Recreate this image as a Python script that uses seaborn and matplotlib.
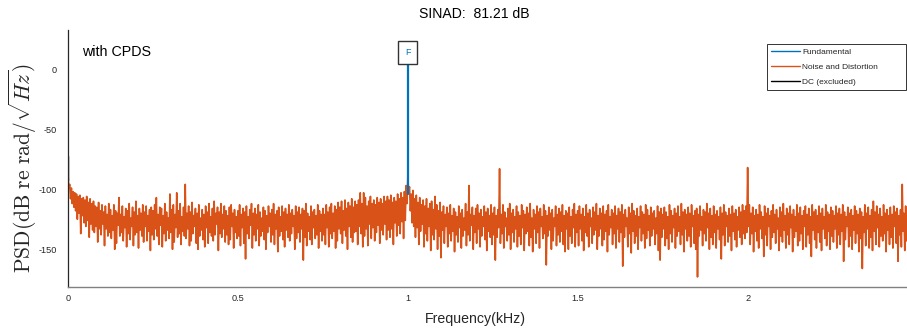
import numpy as np
import pandas as pd
import matplotlib
matplotlib.use('Agg')
import matplotlib.pyplot as plt
import seaborn as sns
from matplotlib.lines import Line2D

sns.set_style('white')
plt.rcParams['font.family'] = ['Liberation Sans', 'DejaVu Sans']
plt.rcParams['mathtext.fontset'] = 'cm'
plt.rcParams['axes.unicode_minus'] = False

# --- data (PSD in dB, frequency in kHz) ---
# noise trace, one value every 0.0025 kHz (alternating peak / trough of the band)
freq_step_khz = 0.0025

# 0.000 - 0.2475 kHz
noise_a = [-88, -99, -96, -108, -99, -112, -102, -115, -103, -118,
           -104, -125, -106, -120, -105, -137, -108, -122, -107, -128,
           -109, -131, -106, -126, -111, -140, -108, -129, -112, -134,
           -110, -136, -114, -131, -115, -144, -111, -133, -118, -138,
           -113, -129, -119, -147, -114, -133, -121, -139, -112, -136,
           -117, -141, -122, -134, -113, -150, -118, -145, -120, -130,
           -107, -139, -121, -136, -114, -143, -123, -132, -116, -148,
           -118, -137, -112, -142, -124, -131, -115, -147, -119, -138,
           -110, -136, -122, -149, -116, -134, -120, -139, -113, -144,
           -119, -131, -114, -143, -122, -135, -117, -151, -115, -138]
# 0.250 - 0.4975 kHz
noise_b = [-118, -142, -113, -133, -107, -139, -121, -146, -115, -130,
           -116, -148, -122, -137, -112, -143, -119, -134, -124, -141,
           -104, -136, -117, -150, -113, -144, -121, -132, -103, -140,
           -118, -137, -112, -146, -123, -135, -115, -139, -96, -141,
           -120, -133, -114, -147, -119, -143, -111, -137, -122, -131,
           -116, -145, -120, -150, -113, -139, -124, -134, -117, -142,
           -121, -148, -114, -132, -119, -145, -112, -136, -123, -139,
           -116, -143, -110, -138, -120, -129, -115, -151, -119, -137,
           -112, -140, -121, -133, -114, -144, -118, -138, -122, -146,
           -115, -142, -113, -131, -120, -149, -117, -136, -123, -141]
# 0.500 - 0.7475 kHz
noise_c = [-118, -139, -113, -147, -121, -132, -116, -145, -119, -158,
           -114, -137, -123, -141, -117, -130, -112, -149, -120, -138,
           -116, -143, -121, -133, -113, -147, -119, -139, -124, -135,
           -115, -142, -118, -150, -122, -136, -114, -131, -120, -144,
           -117, -138, -112, -146, -121, -133, -118, -152, -115, -139,
           -123, -135, -114, -142, -119, -148, -116, -134, -121, -140,
           -113, -143, -120, -137, -117, -131, -122, -150, -114, -141,
           -119, -136, -115, -144, -121, -133, -116, -159, -118, -140,
           -112, -147, -120, -135, -123, -142, -114, -146, -119, -132,
           -117, -141, -122, -138, -113, -149, -118, -135, -121, -143]
# 0.750 - 0.9975 kHz
noise_d = [-116, -138, -121, -146, -113, -132, -119, -148, -115, -137,
           -112, -141, -120, -135, -114, -149, -117, -143, -111, -133,
           -115, -137, -110, -145, -118, -134, -109, -139, -116, -150,
           -111, -131, -114, -140, -108, -144, -115, -136, -110, -135,
           -113, -146, -109, -131, -103, -137, -112, -148, -103, -139,
           -107, -133, -114, -147, -110, -129, -106, -141, -112, -132,
           -109, -143, -113, -136, -107, -130, -111, -145, -108, -134,
           -112, -138, -106, -129, -110, -142, -106, -134, -109, -140,
           -105, -133, -111, -146, -107, -128, -110, -139, -104, -130,
           -108, -137, -103, -127, -107, -141, -102, -126, -97, -112]
# 1.000 - 1.2475 kHz
noise_e = [-90, -102, -98, -118, -104, -128, -101, -131, -108, -140,
           -105, -132, -111, -146, -107, -135, -113, -129, -109, -148,
           -114, -137, -108, -143, -116, -131, -112, -151, -110, -138,
           -117, -142, -106, -133, -113, -150, -118, -139, -111, -157,
           -119, -134, -114, -145, -121, -131, -115, -148, -120, -137,
           -113, -143, -122, -135, -116, -152, -119, -138, -123, -144,
           -114, -132, -120, -149, -117, -139, -124, -134, -112, -147,
           -119, -138, -97, -143, -121, -130, -115, -150, -122, -136,
           -116, -145, -113, -133, -120, -148, -117, -139, -123, -131,
           -114, -142, -119, -151, -116, -135, -122, -140, -113, -146]
# 1.250 - 1.4975 kHz
noise_f = [-120, -138, -115, -159, -122, -140, -117, -132, -83, -145,
           -121, -137, -113, -149, -119, -131, -124, -143, -116, -138,
           -112, -150, -120, -136, -117, -144, -123, -133, -114, -148,
           -119, -139, -122, -146, -113, -132, -118, -151, -121, -137,
           -115, -135, -120, -147, -112, -140, -124, -152, -117, -133,
           -121, -145, -114, -136, -119, -149, -116, -131, -123, -141,
           -113, -137, -118, -163, -122, -139, -115, -134, -120, -150,
           -117, -143, -124, -131, -114, -147, -121, -138, -116, -144,
           -119, -135, -113, -146, -122, -152, -118, -133, -120, -150,
           -115, -139, -123, -145, -117, -132, -112, -148, -121, -136]
# 1.500 - 1.7475 kHz
noise_g = [-118, -147, -114, -133, -121, -143, -116, -151, -123, -136,
           -113, -139, -120, -148, -117, -131, -124, -145, -115, -138,
           -119, -134, -112, -150, -122, -139, -116, -133, -120, -147,
           -114, -142, -121, -135, -118, -152, -113, -138, -123, -132,
           -117, -146, -120, -137, -114, -149, -122, -133, -116, -144,
           -119, -136, -113, -164, -121, -140, -117, -131, -124, -148,
           -115, -137, -120, -153, -112, -135, -118, -145, -122, -139,
           -116, -150, -123, -132, -114, -143, -119, -137, -121, -149,
           -113, -141, -117, -134, -122, -147, -115, -139, -120, -133,
           -118, -146, -124, -137, -114, -151, -119, -159, -116, -140]
# 1.750 - 1.9975 kHz
noise_h = [-121, -133, -115, -147, -119, -141, -123, -150, -113, -137,
           -118, -144, -122, -132, -116, -149, -120, -139, -114, -135,
           -123, -146, -112, -138, -119, -152, -117, -133, -121, -143,
           -115, -139, -120, -148, -113, -131, -122, -145, -118, -150,
           -116, -173, -121, -139, -114, -134, -123, -147, -117, -137,
           -119, -143, -112, -132, -120, -150, -116, -140, -122, -146,
           -114, -136, -121, -149, -118, -133, -123, -142, -115, -158,
           -120, -138, -113, -147, -119, -131, -122, -144, -116, -139,
           -121, -151, -114, -135, -120, -142, -117, -148, -123, -134,
           -115, -140, -119, -146, -113, -137, -118, -141, -114, -136]
# 2.000 - 2.2475 kHz
noise_i = [-82, -131, -113, -146, -120, -137, -115, -152, -122, -135,
           -117, -143, -121, -149, -113, -133, -119, -141, -123, -156,
           -114, -138, -120, -147, -116, -131, -122, -150, -118, -140,
           -113, -136, -121, -145, -117, -133, -124, -151, -115, -139,
           -119, -144, -112, -134, -122, -149, -116, -138, -120, -146,
           -114, -132, -121, -152, -117, -140, -123, -135, -113, -147,
           -120, -143, -115, -137, -122, -150, -118, -131, -114, -148,
           -121, -138, -116, -145, -123, -156, -113, -134, -119, -142,
           -117, -149, -122, -136, -114, -144, -120, -151, -116, -133,
           -123, -141, -113, -147, -119, -135, -121, -150, -115, -139]
# 2.250 - 2.4675 kHz
noise_j = [-118, -144, -122, -133, -114, -149, -120, -138, -116, -146,
           -121, -135, -113, -160, -119, -142, -123, -131, -115, -148,
           -120, -139, -117, -150, -122, -134, -114, -145, -118, -137,
           -121, -152, -116, -141, -119, -166, -123, -136, -113, -147,
           -120, -133, -115, -149, -122, -140, -117, -151, -110, -135,
           -119, -146, -114, -132, -121, -148, -116, -139, -123, -143,
           -113, -137, -120, -152, -117, -134, -122, -146, -115, -140,
           -121, -149, -114, -131, -119, -145, -116, -160, -122, -138,
           -117, -148, -96, -135, -120, -151, -114, -143]

fund_freq = [1.0, 1.0]
fund_psd = [-104, 5]
dc_freq = [0.0, 0.0]
dc_psd = [-72, -92]

x_ticks = [0, 0.5, 1, 1.5, 2]
x_tick_labels = ['0', '0.5', '1', '1.5', '2']
y_ticks = [-150, -100, -50, 0]
y_tick_labels = ['-150', '-100', '-50', '0']

sinad_db = 81.21

noise_psd = (noise_a + noise_b + noise_c + noise_d + noise_e +
             noise_f + noise_g + noise_h + noise_i + noise_j)
noise_freq = np.arange(len(noise_psd)) * freq_step_khz
df = pd.DataFrame({'freq': noise_freq, 'psd': noise_psd})

orange = '#D95319'
blue = '#0072BD'
axis_dark = '#262626'

fig = plt.figure(figsize=(9.07, 3.33), dpi=100)
ax = fig.add_axes([68 / 907, 46 / 333, 839 / 907, 257 / 333])

sns.lineplot(data=df, x='freq', y='psd', ax=ax, color=orange, lw=1.2,
             sort=False, estimator=None)
sns.lineplot(x=fund_freq, y=fund_psd, ax=ax, color=blue, lw=1.6,
             sort=False, estimator=None)
sns.lineplot(x=dc_freq, y=dc_psd, ax=ax, color='black', lw=1.0,
             sort=False, estimator=None)

# fundamental marker
ax.annotate('F', xy=(fund_freq[1], fund_psd[1]), xytext=(0, 4.2),
            textcoords='offset points', ha='center', va='bottom',
            fontsize=6.5, color=blue,
            bbox=dict(boxstyle='square,pad=0.75', fc='white', ec='#333333', lw=1.0))

ax.set_xlim(0, 2.469)
ax.set_ylim(-181.4, 32.5)
ax.set_xticks(x_ticks)
ax.set_xticklabels(x_tick_labels)
ax.set_yticks(y_ticks)
ax.set_yticklabels(y_tick_labels)

for s in ['top', 'right']:
    ax.spines[s].set_visible(False)
ax.spines['left'].set_color(axis_dark)
ax.spines['bottom'].set_color('#808080')
ax.spines['left'].set_linewidth(0.9)
ax.spines['bottom'].set_linewidth(1.0)
ax.tick_params(axis='y', direction='in', length=6, width=0.9, color=axis_dark,
               labelsize=6.6, labelcolor=axis_dark, pad=8)
ax.tick_params(axis='x', direction='in', length=6, width=1.0, color='#808080',
               labelsize=6.6, labelcolor=axis_dark, pad=5)

ax.set_xlabel('Frequency(kHz)', fontsize=10.2, color=axis_dark)
ax.xaxis.set_label_coords(0.486, -0.098)
ax.set_ylabel(r'$\mathrm{PSD(dB\ re\ rad}/\sqrt{Hz})$', fontsize=15.5, color=axis_dark)
ax.yaxis.set_label_coords(-0.034, 0.463)

fig.text(474 / 907, 1 - 14 / 333, f'SINAD:  {sinad_db:.2f} dB', ha='center',
         va='center', fontsize=10.1, color='black')
ax.text(0.017, 0.915, 'with CPDS', transform=ax.transAxes, ha='left',
        va='center', fontsize=10.3, color='black')

handles = [Line2D([], [], color=blue, lw=1.0),
           Line2D([], [], color=orange, lw=1.0),
           Line2D([], [], color='black', lw=1.0)]
labels = ['Fundamental', 'Noise and Distortion', 'DC (excluded)']
leg = ax.legend(handles, labels, loc='upper left', mode='expand',
                bbox_to_anchor=(767 / 907, 1 - 93 / 333, 139 / 907, 49 / 333),
                bbox_transform=fig.transFigure, fontsize=6, frameon=True,
                fancybox=False, framealpha=1, edgecolor='#333333',
                handlelength=3.4, handletextpad=0.3, labelspacing=0.85,
                borderpad=0.5, borderaxespad=0)
leg.get_frame().set_linewidth(0.7)

fig.savefig('out.png', dpi=100)
